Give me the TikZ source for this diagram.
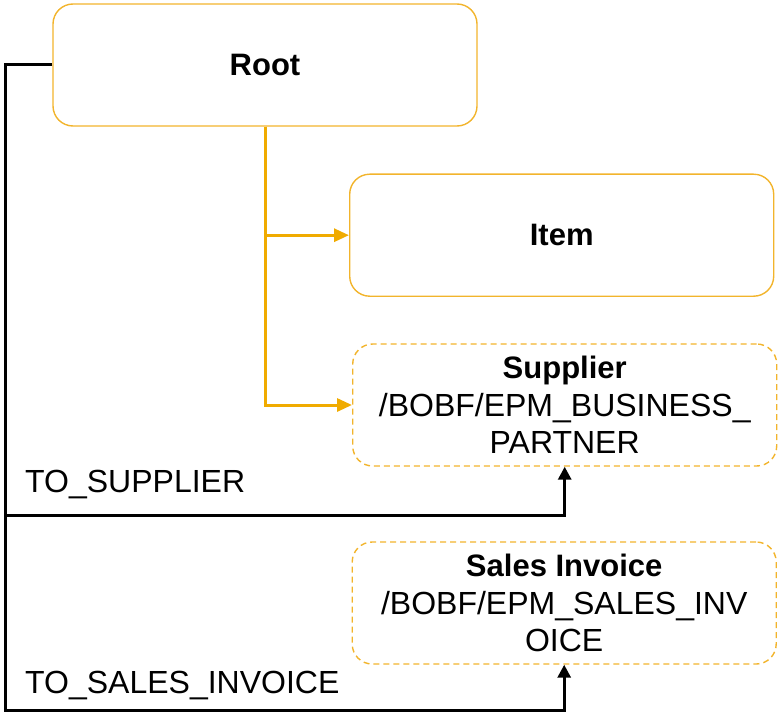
\documentclass[tikz,border=0pt]{standalone}
\usepackage{fontspec}
\setmainfont{Liberation Sans}
\usetikzlibrary{arrows.meta}
\definecolor{sapgold}{HTML}{F0AB00}
\definecolor{boxgold}{HTML}{F2B42C}
\newcommand{\boxtitle}[1]{{\fontsize{31}{37.5}\selectfont\bfseries #1}}
\begin{document}
\begin{tikzpicture}[x=1pt,y=-1pt,
  box/.style={draw=boxgold, line width=1.4pt, rounded corners=20pt,
    minimum width=424pt, minimum height=122pt, inner sep=0pt,
    align=center, font=\fontsize{32}{37.5}\selectfont},
  refbox/.style={box, dash pattern=on 6pt off 4pt},
  lbl/.style={anchor=base west, inner sep=0pt, font=\fontsize{32}{37.5}\selectfont},
  comp/.style={draw=sapgold, line width=3pt,
    -{Triangle[length=15pt,width=13pt]}},
  assoc/.style={draw=black, line width=3pt,
    -{Triangle[length=13pt,width=13pt]}}]
\useasboundingbox (0,0) rectangle (778,714);

% business object nodes
\node[box] (root) at (265,65) {\boxtitle{Root}};
\node[box] (item) at (561.7,235.2) {\boxtitle{Item}};
\node[refbox] (supp) at (564.7,405)
  {\boxtitle{Supplier}\\/BOBF/EPM\_BUSINESS\_\\PARTNER};
\node[refbox] (sinv) at (564.2,603)
  {\boxtitle{Sales Invoice}\\/BOBF/EPM\_SALES\_INV\\OICE};

% composition: root to its child nodes
\draw[comp] (root.south) |- (item.west);
\draw[comp] (root.south) |- (supp.west);

% associations along the left trunk
\coordinate (ttop) at (5.5,65);
\coordinate (tmid) at (5.5,515);
\coordinate (tbot) at (5.5,710.5);
\draw[assoc] (root.west) -- (ttop) -- (tbot) -| (sinv.south);
\draw[assoc] (tmid) -| (supp.south);

\node[lbl] (lsupp) at (25,492.5) {TO\_SUPPLIER};
\node[lbl] (lsinv) at (25,693.3) {TO\_SALES\_INVOICE};
\end{tikzpicture}
\end{document}
